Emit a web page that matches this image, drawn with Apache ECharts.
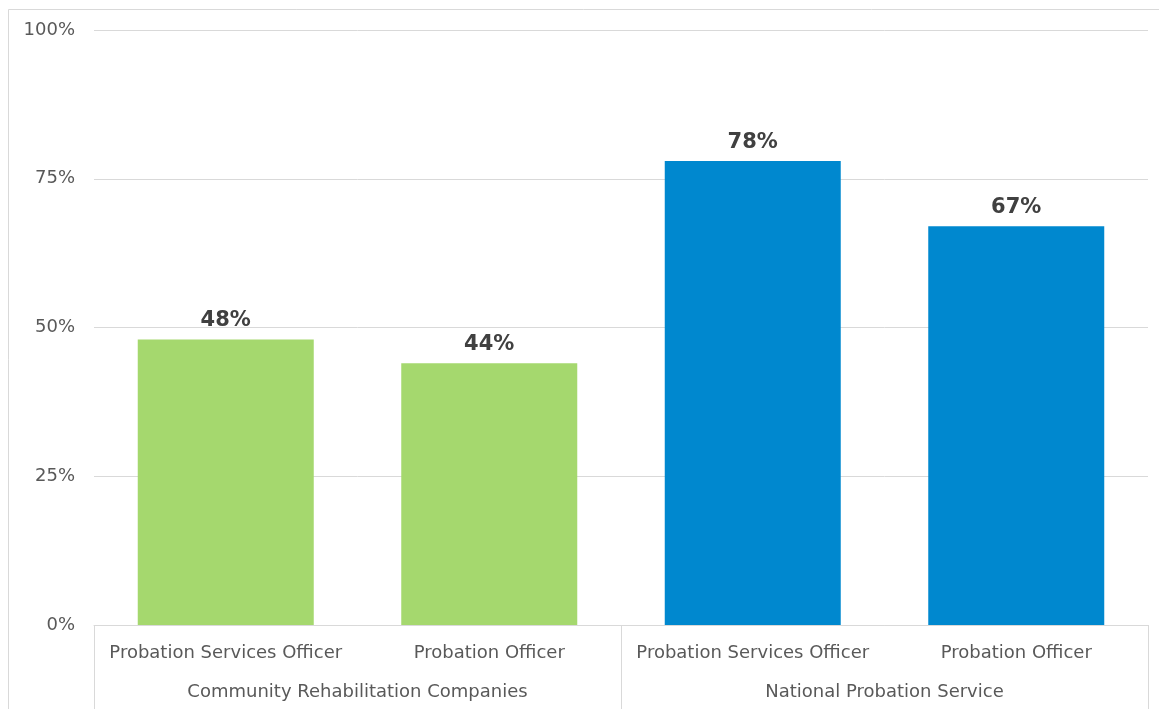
<!DOCTYPE html>
<html><head><meta charset="utf-8">
<script src="https://cdn.jsdelivr.net/npm/echarts@6/dist/echarts.min.js"></script>
<style>html,body{margin:0;padding:0;background:#fff}#c{width:1159px;height:709px}</style>
</head><body><div id="c"></div>
<script>
const categories = ["Probation Services Officer","Probation Officer","Probation Services Officer","Probation Officer"];
const groups = ["Community Rehabilitation Companies","National Probation Service"];
const values = [48, 44, 78, 67];
const barColors = ["#A5D86E","#A5D86E","#0088CF","#0088CF"];
const yTicks = [0, 25, 50, 75, 100];

const FONT = "DejaVu Sans";
const chart = echarts.init(document.getElementById('c'), null, {renderer:'canvas'});
chart.setOption({
  animation:false,
  backgroundColor:'#fff',
  graphic:[
    {type:'line', shape:{x1:8.5,y1:9.5,x2:1159,y2:9.5}, style:{stroke:'#D9D9D9',lineWidth:1}},
    {type:'line', shape:{x1:8.5,y1:9.5,x2:8.5,y2:709}, style:{stroke:'#D9D9D9',lineWidth:1}}
  ],
  grid:{left:94,right:11,top:30,bottom:84,containLabel:false},
  xAxis:[
    {type:'category', data:categories, position:'bottom',
     axisLine:{show:true,lineStyle:{color:'#D9D9D9',width:1}},
     axisTick:{show:false},
     axisLabel:{color:'#595959',fontSize:18,fontFamily:FONT,margin:19,interval:0}},
    {type:'category', data:groups, position:'bottom', offset:0,
     axisLine:{show:false},
     axisTick:{show:true,length:84,interval:0,lineStyle:{color:'#D9D9D9',width:1}},
     axisLabel:{color:'#595959',fontSize:18,fontFamily:FONT,margin:58,interval:0},
     splitLine:{show:false}}
  ],
  yAxis:{type:'value', min:0, max:100, interval:25,
    axisLine:{show:false}, axisTick:{show:false},
    splitLine:{lineStyle:{color:'#D9D9D9',width:1}},
    axisLabel:{color:'#595959',fontSize:18,fontFamily:FONT,margin:19,
      formatter:v=> yTicks.includes(v) ? v+'%' : ''}},
  series:[{type:'bar', xAxisIndex:0,
    data: values.map((v,i)=>({value:v,itemStyle:{color:barColors[i]}})),
    barWidth:176,
    label:{show:true,position:'top',distance:8,formatter:p=>p.value+'%',
      color:'#404040',fontSize:21,fontWeight:'bold',fontFamily:FONT}
  }]
});
</script></body></html>
